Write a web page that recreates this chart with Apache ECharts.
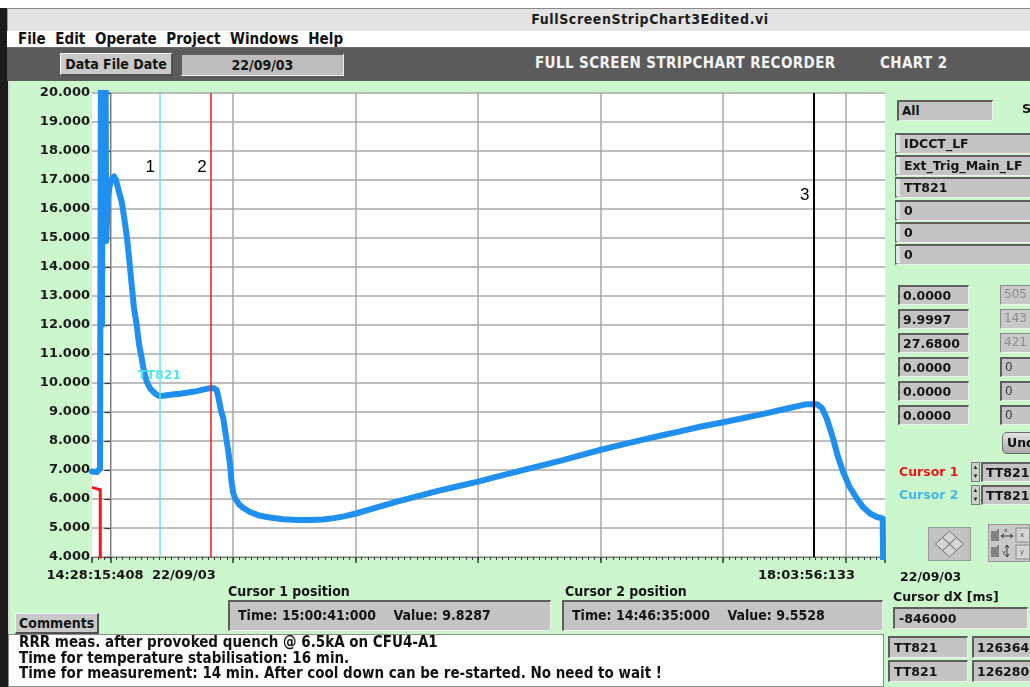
<!DOCTYPE html>
<html>
<head>
<meta charset="utf-8">
<title>FullScreenStripChart3Edited.vi</title>
<script src="https://cdn.jsdelivr.net/npm/echarts@6.0.0/dist/echarts.min.js"></script>
<style>
  html, body { margin: 0; padding: 0; width: 1030px; height: 687px; overflow: hidden; background: #ffffff; }
  .abs { position: absolute; box-sizing: border-box; white-space: nowrap; overflow: hidden; }
  .narrow { font-family: "Liberation Sans Narrow", "DejaVu Sans Condensed", "Arial Narrow", sans-serif; font-weight: bold; }
  .wide { font-family: "DejaVu Sans", Verdana, sans-serif; font-weight: bold; }
  .field { background: #c4c4c4; border-top: 2px solid #5e5e5e; border-left: 2px solid #5e5e5e; border-bottom: 1px solid #efefef; border-right: 1px solid #efefef; color: #141414; }
  .light { background: #c8c8c8; border-top: 1px solid #8a8a8a; border-left: 1px solid #8a8a8a; border-bottom: 1px solid #f2f2f2; border-right: 1px solid #f2f2f2; color: #8c8c8c; }
  .btn { background: #c9c9c9; border-top: 1px solid #f5f5f5; border-left: 1px solid #f5f5f5; border-bottom: 2px solid #505050; border-right: 2px solid #505050; color: #151515; }
  #chart { position: absolute; left: 0; top: 0; width: 1030px; height: 687px; }
</style>
</head>
<body>
<!-- window frame, title bar, menu and toolbar -->
<div class="abs" style="left:0;top:8px;width:1030px;height:679px;background:#1a1a1a"></div>
<div class="abs narrow" style="left:7px;top:8px;width:1023px;height:23px;background:#e3e3e3;border-top:1px solid #8a8a8a;border-left:1px solid #9a9a9a;font-size:14px;line-height:21px;color:#1d1d1d;text-align:center;padding-left:262px;letter-spacing:0.6px">FullScreenStripChart3Edited.vi</div>
<div class="abs narrow" style="left:7px;top:31px;width:1023px;height:17px;background:#ffffff;border-bottom:1px solid #6a6a6a;font-size:15px;line-height:16px;color:#111;padding-left:11px;word-spacing:5px">File Edit Operate Project Windows Help</div>
<div class="abs" style="left:7px;top:48px;width:1023px;height:33px;background:#5b5b5b"></div>
<div class="abs narrow btn" style="left:60px;top:53px;width:113px;height:23px;font-size:14px;line-height:20px;text-align:center">Data File Date</div>
<div class="abs narrow field" id="dateField" style="left:180px;top:53px;width:164px;height:23px;font-size:14px;line-height:20px;text-align:center;background:#bdbdbd"></div>
<div class="abs narrow" style="left:535px;top:54px;font-size:15px;line-height:18px;color:#f4f4f4;letter-spacing:0.4px">FULL SCREEN STRIPCHART RECORDER</div>
<div class="abs narrow" style="left:880px;top:54px;font-size:15px;line-height:18px;color:#f4f4f4;letter-spacing:0.4px">CHART 2</div>

<!-- front panel -->
<div class="abs" style="left:8px;top:81px;width:1022px;height:553px;background:#ccf6cc;border-left:2px solid #d8d8d8"></div>
<div class="abs" style="left:8px;top:634px;width:876px;height:53px;background:#ffffff;border:1px solid #8c8c8c"></div>
<div class="abs" style="left:884px;top:634px;width:146px;height:53px;background:#ccf6cc"></div>
<div class="abs" style="left:92px;top:93px;width:793px;height:464px;background:#ffffff"></div>

<div id="chart"></div>

<!-- right-hand control column -->
<div class="abs wide field" style="left:897px;top:100px;width:96px;height:21px;font-size:12px;line-height:18px;padding-left:3px">All</div>
<div class="abs wide" style="left:1022px;top:100px;font-size:13px;line-height:18px;color:#111">S</div>
<div id="channelList"></div>
<div id="valueList"></div>
<div class="abs wide" style="left:1002px;top:432px;width:40px;height:22px;border-radius:5px;background:linear-gradient(#e4e4e4,#a9a9a9);border:1px solid #6b6b6b;font-size:12.5px;line-height:19px;padding-left:4px;color:#111">Undo</div>
<div id="cursorSelect"></div>
<div class="abs" style="left:928px;top:527px;width:43px;height:34px;background:#c2c2c2;border:1px solid #9a9a9a">
  <svg width="41" height="32" viewBox="0 0 41 32">
    <g fill="#d6d6d6" stroke="#6e6e6e" stroke-width="1">
      <polygon points="20.5,3 27.5,9.5 20.5,16 13.5,9.5"/>
      <polygon points="20.5,16 27.5,22.5 20.5,29 13.5,22.5"/>
      <polygon points="13.5,9.5 20.5,16 13.5,22.5 6.5,16"/>
      <polygon points="27.5,9.5 34.5,16 27.5,22.5 20.5,16"/>
    </g>
  </svg>
</div>
<div class="abs" style="left:988px;top:524px;width:42px;height:38px;background:#c9c9c9;border:1px solid #9a9a9a">
  <svg width="42" height="38" viewBox="0 0 42 38">
    <g stroke="#3a3a3a" stroke-width="1" fill="none">
      <path d="M3,6 v10 M5,6 v10 M7,6 v10 M9,4 v12"/>
      <path d="M3,22 v10 M5,22 v10 M7,22 v10 M9,20 v12"/>
      <path d="M12,11 h12 M12,11 l3,-2 M12,11 l3,2 M24,11 l-3,-2 M24,11 l-3,2"/>
      <path d="M18,20 v12 M18,20 l-2,3 M18,20 l2,3 M18,32 l-2,-3 M18,32 l2,-3"/>
      <rect x="27" y="3" width="14" height="14" fill="#d4d4d4" stroke="#8a8a8a"/>
      <rect x="27" y="20" width="14" height="14" fill="#d4d4d4" stroke="#8a8a8a"/>
    </g>
    <text x="15" y="7" font-family="DejaVu Sans" font-size="6" fill="#333">x</text>
    <text x="13" y="30" font-family="DejaVu Sans" font-size="6" fill="#333">Y</text>
    <text x="31" y="12" font-family="DejaVu Sans" font-size="7" fill="#555">x</text>
    <text x="31" y="29" font-family="DejaVu Sans" font-size="7" fill="#555">y</text>
  </svg>
</div>
<div class="abs wide" id="rightDate" style="left:900px;top:569px;font-size:12.5px;line-height:16px;color:#151515"></div>
<div class="abs wide" style="left:893px;top:589px;font-size:12.5px;line-height:16px;color:#151515">Cursor dX [ms]</div>
<div class="abs wide field" id="cursorDx" style="left:893px;top:607px;width:135px;height:22px;font-size:12.5px;line-height:19px;padding-left:4px"></div>
<div id="cursorReadout"></div>

<!-- cursor position readouts and comments -->
<div class="abs narrow" style="left:228px;top:583px;font-size:14px;line-height:17px;color:#151515">Cursor 1 position</div>
<div class="abs narrow" style="left:565px;top:583px;font-size:14px;line-height:17px;color:#151515">Cursor 2 position</div>
<div class="abs narrow field" id="cursor1Box" style="left:228px;top:600px;width:323px;height:31px;font-size:14px;line-height:27px;padding-left:8px;white-space:pre"></div>
<div class="abs narrow field" id="cursor2Box" style="left:562px;top:600px;width:321px;height:31px;font-size:14px;line-height:27px;padding-left:8px;white-space:pre"></div>
<div class="abs narrow btn" style="left:15px;top:613px;width:84px;height:21px;font-size:14px;line-height:18px;padding-left:3px">Comments</div>
<div class="abs narrow" id="commentText" style="left:19px;top:635px;font-size:15px;line-height:15.5px;color:#111;white-space:pre"></div>

<script>
// ---- chart data -------------------------------------------------------
const chartDate = '22/09/03';
const chartStart = '14:28:15.408';
const chartEnd = '18:03:56.133';
const axisTimeLabels = ['14:28:15:408', '18:03:56:133'];
const yTickMin = 4;
const yTickMax = 20;
const yTickStep = 1;
// first vertical division and division width, in seconds
const firstDivision = '14:33:15.408';
const divisionSeconds = 2000;
const minorTickSeconds = 100;

// TT821 temperature trace
const tt821Times = [
  '14:28:15', '14:29:37', '14:30:26', '14:30:42', '14:30:58', '14:31:15', '14:31:39', '14:31:56',
  '14:32:07', '14:32:20', '14:32:36', '14:33:09', '14:33:42', '14:34:14', '14:34:47',
  '14:35:28', '14:36:20', '14:36:57', '14:37:41', '14:38:19', '14:39:03', '14:39:40', '14:40:25',
  '14:41:02', '14:41:46', '14:42:24', '14:43:08', '14:44:02', '14:44:55', '14:45:48', '14:46:35',
  '14:48:08', '14:50:01', '14:52:11', '14:54:22', '14:56:44', '14:58:43', '15:00:41', '15:01:26',
  '15:02:10', '15:02:48', '15:03:20', '15:03:58', '15:04:42', '15:05:20', '15:05:47', '15:06:15',
  '15:06:41', '15:07:09', '15:08:14', '15:09:24', '15:11:14', '15:13:57', '15:16:40', '15:20:12',
  '15:24:01', '15:27:33', '15:31:05', '15:34:04', '15:36:48', '15:40:03', '15:45:30', '15:51:13',
  '15:56:55', '16:02:22', '16:07:48', '16:13:15', '16:19:14', '16:24:40', '16:30:39', '16:36:22',
  '16:41:32', '16:46:26', '16:51:52', '16:57:18', '17:02:45', '17:08:11', '17:13:37', '17:19:36',
  '17:25:52', '17:31:51', '17:37:17', '17:40:50', '17:42:44', '17:45:27', '17:46:49', '17:48:10',
  '17:49:48', '17:51:10', '17:52:32', '17:54:10', '17:56:15', '17:57:58', '17:59:52', '18:01:46',
  '18:03:19', '18:03:38', '18:03:40'
];
const tt821Values = [
  6.95, 6.93, 7.05, 21.5, 12.0, 21.5, 15.0, 21.5,
  14.9, 15.6, 16.4, 16.85, 17.05, 17.12, 17.0,
  16.65, 16.25, 15.75, 15.1, 14.35, 13.38, 12.6, 12.0,
  11.35, 10.86, 10.4, 10.05, 9.82, 9.70, 9.60, 9.5528,
  9.57, 9.60, 9.63, 9.67, 9.72, 9.78, 9.8287, 9.82,
  9.76, 9.40, 9.05, 8.78, 8.15, 7.63, 7.20, 6.55,
  6.20, 6.03, 5.82, 5.69, 5.55, 5.42, 5.36, 5.30,
  5.28, 5.28, 5.29, 5.34, 5.40, 5.50, 5.70, 5.91,
  6.10, 6.28, 6.44, 6.60, 6.80, 6.97, 7.16, 7.34,
  7.52, 7.69, 7.86, 8.02, 8.18, 8.33, 8.49, 8.64,
  8.80, 8.96, 9.12, 9.22, 9.27, 9.27, 9.13, 8.75,
  8.09, 7.45, 6.94, 6.45, 6.02, 5.72, 5.50, 5.38,
  5.33, 5.30, 0
];

// IDCCT_LF trace
const idcctTimes = ['14:28:15', '14:29:40', '14:30:30', '14:30:31'];
const idcctValues = [6.40, 6.35, 6.32, 0];

// cursors: 1 (red), 2 (cyan) and marker 3 (black)
const cursorTimes = ['15:00:41', '14:46:35', '17:44:38'];
const cursorValues = [9.8287, 9.5528, null];
const cursorTags = ['2', '1', '3'];
const cursorColors = ['#f01c1c', '#6fe3ee', '#000000'];
const cursorChannel = 'TT821';
const cursorDxMs = -846000;
const cursorIndexes = ['1263640', '1262800'];

// channel selector contents
const channelNames = ['IDCCT_LF', 'Ext_Trig_Main_LF', 'TT821', '0', '0', '0'];
const channelReadings = ['0.0000', '9.9997', '27.6800', '0.0000', '0.0000', '0.0000'];
const channelPoints = ['505', '143', '421', '0', '0', '0'];

const commentLines = [
  'RRR meas. after provoked quench @ 6.5kA on CFU4-A1',
  'Time for temperature stabilisation: 16 min.',
  'Time for measurement: 14 min. After cool down can be re-started. No need to wait !'
];

// ---- helpers ----------------------------------------------------------
function toSec(t) {
  const p = t.split(':');
  return (+p[0]) * 3600 + (+p[1]) * 60 + parseFloat(p[2]);
}
const t0 = toSec(chartStart);
const t1 = toSec(chartEnd);
const tDiv = toSec(firstDivision);

// ---- panel texts ------------------------------------------------------
document.getElementById('dateField').textContent = chartDate;
document.getElementById('rightDate').textContent = chartDate;
document.getElementById('cursorDx').textContent = String(cursorDxMs);
document.getElementById('commentText').textContent = commentLines.join('\n');
document.getElementById('cursor1Box').textContent =
  'Time: ' + cursorTimes[0] + ':000    Value: ' + cursorValues[0].toFixed(4);
document.getElementById('cursor2Box').textContent =
  'Time: ' + cursorTimes[1] + ':000    Value: ' + cursorValues[1].toFixed(4);

(function buildPanels() {
  let html = '';
  channelNames.forEach(function (name, i) {
    const top = 133 + i * 22.2;
    html += '<div class="abs field wide" style="left:895px;top:' + top + 'px;width:140px;height:21px;font-size:12.5px;line-height:18px;padding-left:7px;background:#c4c4c4">' + name + '</div>';
    html += '<div class="abs" style="left:896px;top:' + (top + 2) + 'px;width:4px;height:17px;background:#e6e6e6"></div>';
  });
  document.getElementById('channelList').innerHTML = html;

  html = '';
  channelReadings.forEach(function (v, i) {
    const top = 285 + i * 24;
    html += '<div class="abs field wide" style="left:898px;top:' + top + 'px;width:71px;height:20px;font-size:12.5px;line-height:17px;padding-left:3px">' + v + '</div>';
    const dim = i < 3;
    html += '<div class="abs ' + (dim ? 'light' : 'field') + '" style="left:1000px;top:' + top + 'px;width:40px;height:20px;font-family:\'DejaVu Sans\',sans-serif;font-size:12px;line-height:17px;padding-left:3px;' + (dim ? '' : 'color:#3a3a3a;') + '">' + channelPoints[i] + '</div>';
  });
  document.getElementById('valueList').innerHTML = html;

  html = '';
  ['Cursor 1', 'Cursor 2'].forEach(function (lab, i) {
    const top = 462 + i * 23;
    const col = i === 0 ? '#e8161c' : '#43b7e6';
    html += '<div class="abs wide" style="left:899px;top:' + (top + 1) + 'px;font-size:12.5px;line-height:17px;color:' + col + '">' + lab + '</div>';
    html += '<div class="abs" style="left:971px;top:' + top + 'px;width:9px;height:20px;background:#cfcfcf;border:1px solid #7a7a7a;font-size:6px;line-height:9px;text-align:center;color:#222">&#9650;<br>&#9660;</div>';
    html += '<div class="abs field wide" style="left:981px;top:' + top + 'px;width:60px;height:20px;font-size:12.5px;line-height:17px;padding-left:3px">' + cursorChannel + '</div>';
  });
  document.getElementById('cursorSelect').innerHTML = html;

  html = '';
  cursorIndexes.forEach(function (idx, i) {
    const top = 636 + i * 24;
    html += '<div class="abs field wide" style="left:888px;top:' + top + 'px;width:80px;height:22px;font-size:12.5px;line-height:19px;padding-left:4px">' + cursorChannel + '</div>';
    html += '<div class="abs field wide" style="left:972px;top:' + top + 'px;width:64px;height:22px;font-size:12.5px;line-height:19px;padding-left:3px">' + idx + '</div>';
  });
  document.getElementById('cursorReadout').innerHTML = html;
})();

// ---- strip chart ------------------------------------------------------
const chart = echarts.init(document.getElementById('chart'), null, { renderer: 'canvas' });

const tt821Data = tt821Times.map(function (t, i) { return [toSec(t), tt821Values[i]]; });
const idcctData = idcctTimes.map(function (t, i) { return [toSec(t), idcctValues[i]]; });

const gridColor = '#a9a9a9';
const labelFont = { color: '#1b1b1b', fontWeight: 'bold', fontFamily: 'DejaVu Sans', fontSize: 13 };

chart.setOption({
  backgroundColor: 'transparent',
  animation: false,
  grid: { left: 92, top: 93, width: 793, height: 464, containLabel: false },
  xAxis: [
    {
      // time axis carrying the traces, with minor ticks every 100 s
      type: 'value', min: t0, max: t1, interval: minorTickSeconds, position: 'bottom',
      axisLine: { show: true, lineStyle: { color: '#7c7c7c', width: 1 } },
      axisTick: { show: true, length: 3, lineStyle: { color: '#3a3a3a', width: 1 } },
      axisLabel: { show: false },
      splitLine: { show: false }
    },
    {
      // division axis: major ticks and vertical grid lines
      type: 'value', min: t0 - tDiv, max: t1 - tDiv, splitNumber: 6,
      minInterval: divisionSeconds, maxInterval: divisionSeconds, position: 'bottom', offset: 0,
      axisLine: { show: false },
      axisTick: { show: true, length: 6, lineStyle: { color: '#3a3a3a', width: 1.5 } },
      axisLabel: { show: false },
      splitLine: { show: true, showMinLine: false, showMaxLine: false, lineStyle: { color: gridColor, width: 1.5 } }
    }
  ],
  yAxis: {
    type: 'value', min: yTickMin, max: yTickMax, interval: yTickStep,
    axisLine: { show: true, lineStyle: { color: '#7c7c7c', width: 1 } },
    axisTick: { show: true, length: 6, lineStyle: { color: '#3a3a3a', width: 1.2 } },
    axisLabel: Object.assign({ margin: 2, formatter: function (v) { return v.toFixed(3); } }, labelFont),
    splitLine: { show: true, lineStyle: { color: gridColor, width: 1.5 } }
  },
  series: [
    {
      name: 'IDCCT_LF', type: 'line', xAxisIndex: 0, data: idcctData, symbol: 'none',
      clip: true, z: 2,
      lineStyle: { color: '#f5161a', width: 3, cap: 'butt', join: 'miter' }
    },
    {
      name: 'TT821', type: 'line', xAxisIndex: 0, data: tt821Data, symbol: 'none',
      clip: true, z: 3,
      lineStyle: { color: '#1f8ff0', width: 6, cap: 'round', join: 'round' },
      markPoint: {
        symbol: 'circle', symbolSize: 1, itemStyle: { color: 'transparent' },
        label: {
          show: true, position: 'top', distance: 13, formatter: cursorChannel,
          color: '#52e4f2', fontWeight: 'bold', fontFamily: 'DejaVu Sans', fontSize: 12.5
        },
        data: [{ coord: [toSec(cursorTimes[1]), cursorValues[1]] }]
      }
    },
    {
      name: 'cursors', type: 'line', xAxisIndex: 0, data: [], z: 5,
      markLine: {
        silent: true, symbol: ['none', 'none'], animation: false,
        label: { show: false },
        data: cursorTimes.map(function (t, i) {
          return { xAxis: toSec(t), lineStyle: { color: cursorColors[i], width: i === 2 ? 2 : 1.5, type: 'solid' } };
        })
      }
    }
  ]
});

// cursor tags, time labels under the axis
const tagGraphics = cursorTimes.map(function (t, i) {
  const px = chart.convertToPixel({ xAxisIndex: 0 }, toSec(t));
  return {
    type: 'text', left: px - 14, top: i === 2 ? 187 : 159,
    style: { text: cursorTags[i], fill: '#000', font: '17px "Liberation Sans", Arial, sans-serif' }
  };
});
const startPx = chart.convertToPixel({ xAxisIndex: 0 }, t0);
tagGraphics.push(
  { type: 'text', x: startPx + 3, y: 569, style: { text: axisTimeLabels[0], fill: '#151515', font: 'bold 13px "DejaVu Sans"', textAlign: 'center' } },
  { type: 'text', x: 152, y: 569, style: { text: chartDate, fill: '#151515', font: 'bold 13px "DejaVu Sans"' } },
  { type: 'text', x: 855, y: 569, style: { text: axisTimeLabels[1], fill: '#151515', font: 'bold 13px "DejaVu Sans"', textAlign: 'right' } }
);
chart.setOption({ graphic: tagGraphics });
</script>
</body>
</html>
